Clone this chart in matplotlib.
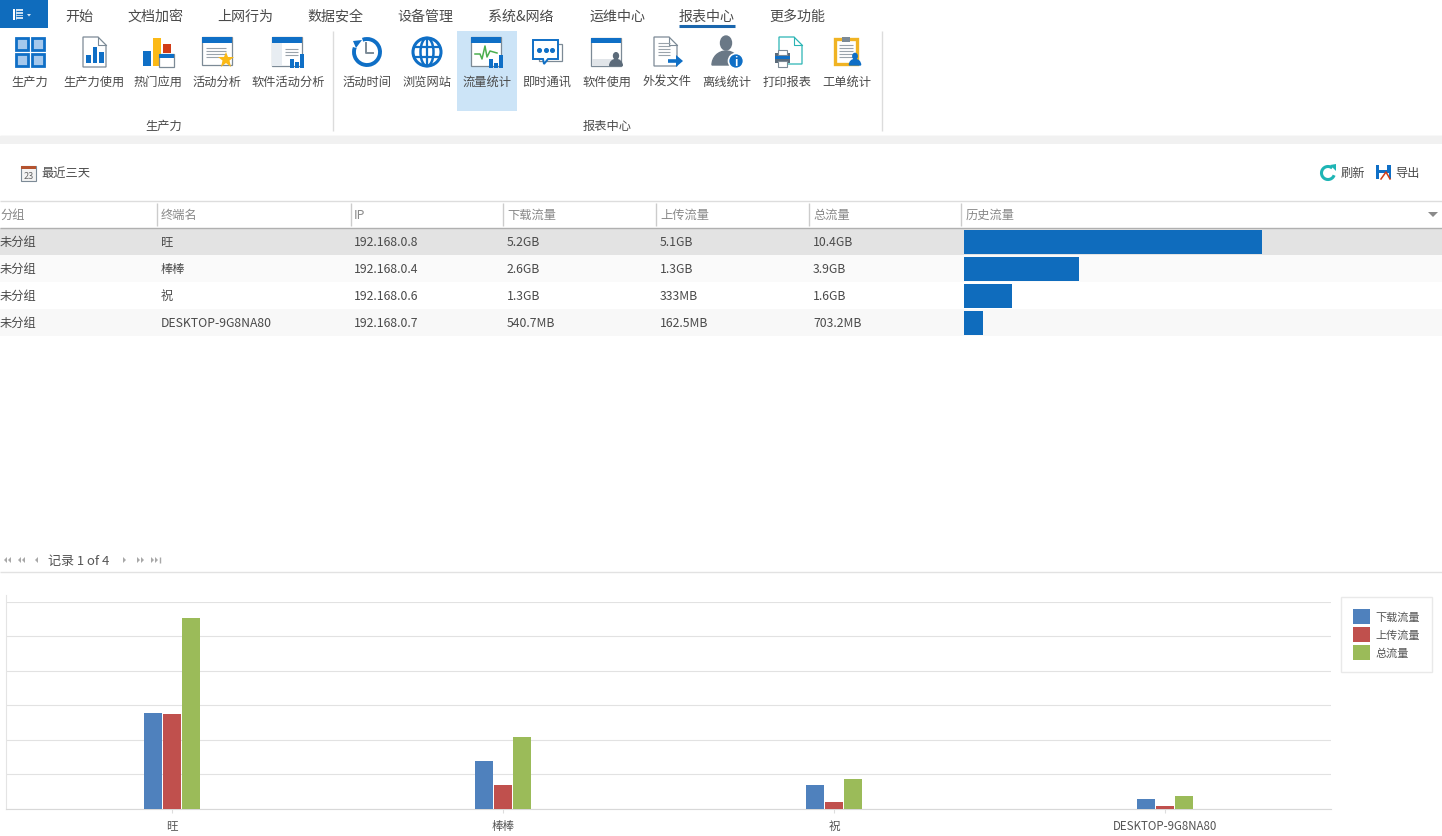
import numpy as np
import matplotlib

matplotlib.use("Agg")
import matplotlib.pyplot as plt
from matplotlib.patches import Rectangle, Circle, Polygon, Arc, Wedge, Ellipse

plt.rcParams['font.family'] = ['Noto Sans CJK SC', 'DejaVu Sans']

# chart data, in units of 1e9 bytes (the chart gridlines sit on every 2e9)
devices = ['旺', '棒棒', '祝', 'DESKTOP-9G8NA80']
download = [5.56, 2.78, 1.39, 0.56]
upload = [5.45, 1.39, 0.35, 0.17]
total = [11.07, 4.17, 1.70, 0.73]
y_ticks = [0, 2, 4, 6, 8, 10, 12]
series_names = ['下载流量', '上传流量', '总流量']
series_colors = ['#4f81bd', '#c0504d', '#9bbb59']

# table data
columns = ['分组', '终端名', 'IP', '下载流量', '上传流量', '总流量', '历史流量']
groups = ['未分组', '未分组', '未分组', '未分组']
ips = ['192.168.0.8', '192.168.0.4', '192.168.0.6', '192.168.0.7']
download_text = ['5.2GB', '2.6GB', '1.3GB', '540.7MB']
upload_text = ['5.1GB', '1.3GB', '333MB', '162.5MB']
total_text = ['10.4GB', '3.9GB', '1.6GB', '703.2MB']
history = [10.4, 4.0, 1.67, 0.66]

# ribbon text
tabs = ['开始', '文档加密', '上网行为', '数据安全', '设备管理', '系统&网络', '运维中心', '报表中心', '更多功能']
tab_x = [79, 155, 245, 335, 425, 521, 617, 707, 797]
ribbon_items = ['生产力', '生产力使用', '热门应用', '活动分析', '软件活动分析', '活动时间', '浏览网站',
                '流量统计', '即时通讯', '软件使用', '外发文件', '离线统计', '打印报表', '工单统计']
ribbon_x = [30, 94, 158, 217, 288, 367, 427, 487, 547, 607, 667, 727, 787, 847]

BLUE = '#0f6fc6'
GREY = '#7c8a96'
TEXT = '#4a4a4a'

W, H = 1442, 837
fig = plt.figure(figsize=(W / 100, H / 100), dpi=100, facecolor='white')

# whole-window axes in screen pixels, for the application chrome
ui = fig.add_axes([0, 0, 1, 1])
ui.set_xlim(0, W)
ui.set_ylim(H, 0)
ui.axis('off')


def rect(x0, y0, x1, y1, color, edge='none', lw=0, z=2):
    ui.add_patch(Rectangle((x0, y0), x1 - x0, y1 - y0, facecolor=color, edgecolor=edge, linewidth=lw, zorder=z))


def hline(x0, x1, y, color, lw=1, z=2):
    ui.plot([x0, x1], [y, y], color=color, lw=lw, zorder=z, solid_capstyle='butt')


def vline(x, y0, y1, color, lw=1, z=2):
    ui.plot([x, x], [y0, y1], color=color, lw=lw, zorder=z, solid_capstyle='butt')


def poly(points, color, edge='none', lw=0, z=3):
    ui.add_patch(Polygon(points, closed=True, facecolor=color, edgecolor=edge, linewidth=lw, zorder=z))


def label(x, y, s, size=8.8, color=TEXT, ha='left'):
    ui.text(x, y, s, fontsize=size, color=color, ha=ha, va='center', zorder=6)


def window_icon(x0, y0, x1, y1, bar=6):
    rect(x0, y0, x1, y1, 'white', edge=GREY, lw=0.9, z=3)
    rect(x0, y0, x1, y0 + bar, BLUE, z=3)


def bars_icon(x0, y1, heights, w=4, gap=1.5):
    for i, h in enumerate(heights):
        rect(x0 + i * (w + gap), y1 - h, x0 + i * (w + gap) + w, y1, BLUE, z=4)


def doc_icon(x0, y0, x1, y1, fold=8, edge=GREY):
    poly([(x0, y0), (x1 - fold, y0), (x1, y0 + fold), (x1, y1), (x0, y1)], 'white', edge=edge, lw=0.9)
    ui.plot([x1 - fold, x1 - fold, x1], [y0, y0 + fold, y0 + fold], color=edge, lw=0.8, zorder=3)


def text_lines(x0, x1, ys, color='#9aa3ab'):
    for y in ys:
        hline(x0, x1, y, color, lw=0.8, z=4)


def person(cx, cy, r, color):
    ui.add_patch(Ellipse((cx, cy - r * 0.7), r * 1.1, r * 1.4, color=color, zorder=5))
    ui.add_patch(Wedge((cx, cy + r * 1.5), r * 1.4, 180, 360, color=color, zorder=5, width=None))
    poly([(cx - r * 1.3, cy + r), (cx + r * 1.3, cy + r), (cx + r * 1.3, cy + r * 1.5), (cx - r * 1.3, cy + r * 1.5)],
         color, z=5)


# top bar and tabs
rect(0, 0, 48, 29, '#0f6cbd')
rect(13, 10, 15, 21, 'white', z=3)
rect(16, 10, 23, 21, '#d5e6f5', z=3)
text_lines(16, 23, [12, 14.5, 17, 19.5], color='#0f6cbd')
poly([(27, 15), (31, 15), (29, 17.5)], '#d5e6f5')
for x, s in zip(tab_x, tabs):
    label(x, 16.5, s, size=10.1, ha='center')
hline(679, 735, 27, '#1a66ad', lw=2.2)

# ribbon
rect(457, 32, 517, 112, '#cce4f7', z=1)
for x, s in zip(ribbon_x, ribbon_items):
    label(x, 82, s, ha='center')
label(164, 126, '生产力', ha='center')
label(607, 126, '报表中心', ha='center')
vline(332.5, 32, 132, '#dcdcdc')
vline(881.5, 32, 132, '#dcdcdc')
hline(0, W, 136.5, '#dddddd')
rect(0, 137, W, 145, '#f1f1f1')

# ribbon icons
for x0, y0 in [(15, 38), (31, 38), (15, 54), (31, 54)]:
    rect(x0 + 1, y0 + 1, x0 + 13, y0 + 13, '#a5c8ec', edge=BLUE, lw=2, z=3)

doc_icon(83, 38, 106, 68)
bars_icon(86, 64, [8, 16, 11], w=4.5, gap=2)

rect(143, 52, 151, 67, BLUE, z=3)
rect(153, 39, 161, 67, '#fbb917', z=3)
rect(163, 45, 171, 54, '#d13c17', z=3)
rect(159, 55, 174, 68, 'white', edge=GREY, lw=0.9, z=4)
rect(159, 55, 174, 59, BLUE, z=4)

window_icon(202, 38, 232, 66)
text_lines(206, 226, [49, 52, 55, 58])
poly([(226, 53), (228, 58), (234, 58), (229.5, 61.5), (231, 68), (226, 64), (221, 68), (222.5, 61.5), (218, 58), (224, 58)],
     '#fbb917', z=5)

window_icon(272, 38, 302, 67)
rect(272, 44, 282, 67, '#e8edf2', z=3)
text_lines(285, 298, [50, 53, 56], color='#9aa3ab')
bars_icon(290, 69, [9, 6, 14], w=4, gap=1)

ui.add_patch(Arc((367, 53), 26, 26, theta1=250, theta2=560, color=BLUE, lw=2.8, zorder=3))
poly([(353, 42), (362, 41), (356, 49)], BLUE)
ui.plot([366, 366, 373], [44, 54, 54], color=GREY, lw=1.4, zorder=3)

ui.add_patch(Circle((427, 53), 14, facecolor='white', edgecolor=BLUE, lw=2.2, zorder=3))
ui.add_patch(Ellipse((427, 53), 13, 28, facecolor='none', edgecolor=BLUE, lw=1.8, zorder=3))
hline(413, 441, 48, BLUE, lw=1.6, z=3)
hline(413, 441, 58, BLUE, lw=1.6, z=3)
vline(427, 39, 67, BLUE, lw=1.6, z=3)

window_icon(471, 38, 501, 67)
ui.plot([475, 480, 482, 485, 487, 490, 497], [55, 55, 60, 47, 58, 52, 54], color='#4caf50', lw=1.1, zorder=4)
bars_icon(489, 69, [9, 5, 13], w=4, gap=1)

rect(539, 45, 562, 62, 'white', edge=GREY, lw=0.9, z=3)
poly([(533, 41), (558, 41), (558, 60), (548, 60), (544, 65), (543, 60), (533, 60)], 'white', edge=BLUE, lw=1.4, z=4)
ui.scatter([539, 545.5, 552], [50.5, 50.5, 50.5], s=7, color=BLUE, zorder=5)

window_icon(591, 39, 621, 67, bar=5)
rect(591.5, 60, 620.5, 66.5, '#e1e5e9', z=3)
person(616, 60, 4.5, '#5c6b7a')

doc_icon(654, 38, 677, 67)
text_lines(658, 670, [44, 47, 50, 53, 56])
hline(668, 678, 62, BLUE, lw=2.6, z=4)
poly([(676, 56), (683, 62), (676, 68)], BLUE, z=5)

person(726, 51, 10, '#6a7886')
ui.add_patch(Circle((736, 62), 7.5, facecolor=BLUE, edgecolor='white', lw=1.2, zorder=6))
ui.text(736, 62, 'i', color='white', fontsize=8, fontweight='bold', ha='center', va='center', zorder=7)

doc_icon(779, 38, 802, 65, edge='#2bb5b5')
rect(775, 54, 790, 64, '#5c6b7a', z=4)
rect(778, 51, 787, 56, 'white', edge=GREY, lw=0.8, z=4)
rect(775, 57, 790, 60, BLUE, z=5)
rect(778, 62, 787, 68, 'white', edge=GREY, lw=0.8, z=5)

rect(835, 40, 857, 65, 'white', edge='#f0b323', lw=2.4, z=3)
rect(842, 38, 850, 43, GREY, z=4)
text_lines(839, 853, [46, 49, 52, 55, 58])
person(855, 60, 4, BLUE)

# toolbar
rect(21, 167, 36, 182, '#f3f3f3', edge=GREY, lw=0.8)
rect(21, 167, 36, 170, '#b5532f', z=3)
ui.text(28.5, 176, '23', fontsize=6.5, color='#666666', ha='center', va='center', zorder=4)
label(41, 173.5, '最近三天')
ui.add_patch(Arc((1328, 174), 13, 13, theta1=20, theta2=310, color='#1eb5b5', lw=2.2, zorder=3))
poly([(1330, 166), (1336, 165), (1336, 172)], '#1eb5b5')
label(1341, 173.5, '刷新')
rect(1376, 166, 1391, 180, BLUE, z=3)
rect(1379, 166, 1387, 171, 'white', z=4)
rect(1379, 174, 1389, 180, 'white', z=4)
ui.plot([1381, 1386, 1390], [180, 173, 180], color='#d13c17', lw=1.1, zorder=5)
label(1395, 173.5, '导出')

# table header
hline(0, W, 201.5, '#dddddd')
hline(0, W, 228.5, '#b0b0b0')
header_x = [0, 161, 354, 507, 660, 813, 966]
for x, s in zip(header_x, columns):
    label(x, 215.5, s, color='#888888')
for x in [157, 351, 503, 656, 809, 961]:
    vline(x - 0.5, 204, 227, '#cccccc')
poly([(1428, 213), (1438, 213), (1433, 218)], '#8a8a8a')

# table rows
row_tops = [229, 256, 283, 310]
row_colors = ['#e3e3e3', '#fafafa', '#ffffff', '#f8f8f8']
for top, c in zip(row_tops, row_colors):
    rect(0, top, W, top + 27, c, z=1)
for i, top in enumerate(row_tops):
    row_y = top + 13
    label(0, row_y, groups[i])
    label(161, row_y, devices[i])
    label(354, row_y, ips[i])
    label(507, row_y, download_text[i])
    label(660, row_y, upload_text[i])
    label(813, row_y, total_text[i])

# pager
hline(0, W, 572.5, '#e2e2e2')
for x, d in [(4, -1), (8, -1), (18, -1), (22, -1), (35, -1), (123, 1), (137, 1), (141, 1), (151, 1), (155, 1)]:
    poly([(x + 2 * (1 - d) / 2 * 1.5, 558), (x + 2 * (1 + d) / 2 * 1.5, 561), (x + 2 * (1 - d) / 2 * 1.5, 564)], '#a8a8a8')
vline(159.5, 558, 564, '#a8a8a8')
label(48, 561.5, '记录 1 of 4', color='#555555', size=9.4)

# history traffic column, one bar per row
hist_ax = fig.add_axes([964 / W, 1 - 337 / H, (W - 964) / W, 108 / H])
hist_ax.patch.set_alpha(0)
hist_ax.axis('off')
hist_ax.barh(range(len(history)), history, height=24 / 27, color='#0f6cbd')
hist_ax.set_xlim(0, 10.4 * (W - 964) / 298)
hist_ax.set_ylim(3.5, -0.5)

# clustered column chart
ax = fig.add_axes([6 / W, 1 - 809.5 / H, 1325 / W, 207 / H])
ax.patch.set_alpha(0)
x = np.arange(len(devices))
bar_w = 18 / 331.25
bar_step = 19 / 331.25
handles = []
for i, (vals, c) in enumerate(zip([download, upload, total], series_colors)):
    b = ax.bar(x + (i - 1) * bar_step, vals, width=bar_w, color=c, linewidth=0, zorder=3)
    handles.append(b)
ax.set_xlim(-0.5, 3.5)
ax.set_ylim(0, 12)
ax.set_yticks(y_ticks)
ax.set_yticklabels([])
ax.set_xticks(x)
ax.set_xticklabels(devices, fontsize=8.3, color='#555555')
ax.tick_params(axis='y', length=0)
ax.tick_params(axis='x', length=3, color='#dddddd', pad=4.5)
ax.grid(axis='y', color='#e2e2e2', lw=0.8)
ax.set_axisbelow(True)
for side in ['top', 'right']:
    ax.spines[side].set_visible(False)
ax.spines['bottom'].set_color('#d8d8d8')
ax.spines['left'].set_color('#e4e4e4')
ax.spines['left'].set_bounds(0, 12.4)
ax.spines['left'].set_clip_on(False)

leg = fig.legend(handles, series_names, loc='upper left',
                 bbox_to_anchor=(1341 / W, 1 - 598 / H), bbox_transform=fig.transFigure,
                 fontsize=8, labelcolor='#555555', frameon=True, fancybox=False,
                 edgecolor='#e4e4e4', borderaxespad=0, borderpad=1.05,
                 handlelength=1.6, handleheight=1.75, handletextpad=0.45, labelspacing=0.23)
leg.get_frame().set_linewidth(1)

fig.savefig('out.png', dpi=100)
